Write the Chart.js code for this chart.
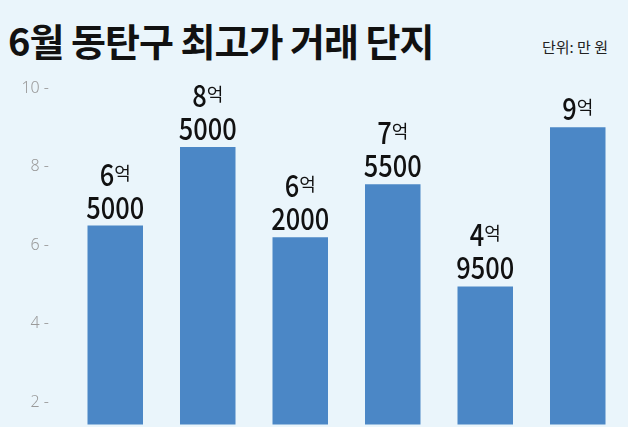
<!DOCTYPE html>
<html><head><meta charset="utf-8">
<script src="https://cdn.jsdelivr.net/npm/chart.js@4"></script>
<style>
html,body{margin:0;padding:0;background:#eaf5fb;}
#wrap{position:relative;width:628px;height:427px;overflow:hidden;}
#title{position:absolute;left:8px;top:12px;font-family:"Noto Sans CJK KR";font-weight:700;font-size:38px;color:#111;letter-spacing:-1px;}
#unit{position:absolute;right:20px;top:36px;font-family:"Noto Sans CJK KR";font-size:15px;color:#222;}
canvas{position:absolute;left:0;top:0;}
</style></head><body>
<div id="wrap"><div id="title">6월 동탄구 최고가 거래 단지</div><div id="unit">단위: 만 원</div>
<canvas id="c" width="628" height="446"></canvas></div>
<script>
const categories=["A","B","C","D","E","F"];
const values=[65000,85000,62000,75500,49500,90000]; // 만 원
const yTicks=[2,4,6,8,10];
const NUM='500 31px "Noto Sans CJK KR"';
function drawNarrow(ctx,txt,x,y){ctx.save();ctx.translate(x,y);ctx.scale(0.82,1);ctx.fillText(txt,0,0);ctx.restore();}
const labelPlugin={id:'lbl',afterDatasetsDraw(ch){
  const ctx=ch.ctx;const meta=ch.getDatasetMeta(0);
  meta.data.forEach((b,i)=>{
    const v=values[i];const eok=Math.floor(v/10000);const rest=v%10000;
    ctx.save();ctx.fillStyle='#111';ctx.textBaseline='alphabetic';
    let y=b.y-7;
    ctx.font=NUM;
    if(rest){const w=ctx.measureText(String(rest)).width*0.82;ctx.textAlign='left';drawNarrow(ctx,String(rest),b.x-w/2,y);y-=33;}
    const w1=ctx.measureText(String(eok)).width*0.82;
    ctx.font='18px "Noto Sans CJK KR"';const w2=ctx.measureText('억').width;
    let x0=b.x-(w1+w2)/2;ctx.textAlign='left';
    ctx.font=NUM;drawNarrow(ctx,String(eok),x0,y);
    ctx.font='18px "Noto Sans CJK KR"';ctx.fillText('억',x0+w1,y-6);
    ctx.restore();
  });
}};
new Chart(document.getElementById('c'),{type:'bar',
 data:{labels:categories,datasets:[{data:values.map(v=>v/10000),backgroundColor:'#4b87c6',barPercentage:0.6,categoryPercentage:1}]},
 options:{responsive:false,animation:false,layout:{padding:{top:88,right:4,left:0,bottom:0}},
  plugins:{legend:{display:false},tooltip:{enabled:false}},
  scales:{x:{display:false},
   y:{min:1.44,max:10,afterBuildTicks(a){a.ticks=yTicks.map(v=>({value:v}));},
    afterFit(a){a.width=69;},border:{display:false},grid:{display:false},
    ticks:{color:'#9a9a9a',font:{family:'Noto Sans',size:16,weight:300},padding:12,callback:v=>v+' -'}}}},
 plugins:[labelPlugin]});
</script></body></html>
